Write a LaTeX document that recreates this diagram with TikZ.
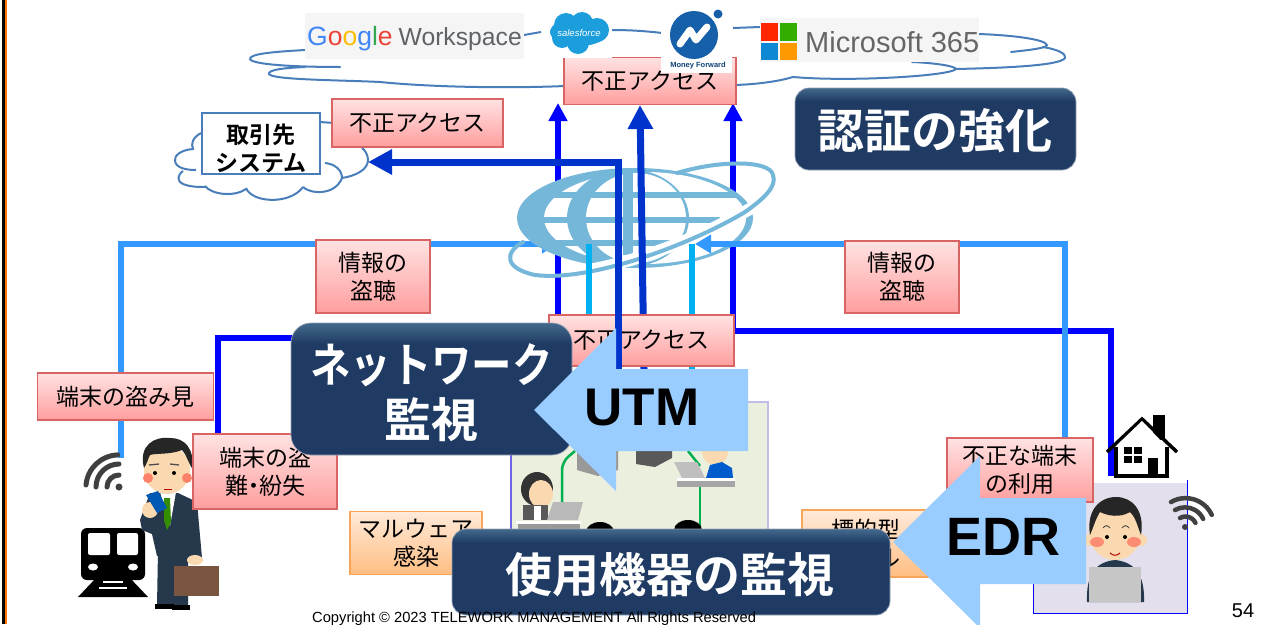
\documentclass[tikz,border=0pt]{standalone}
\usepackage{fontspec}
\setmainfont{Liberation Sans}
\newfontfamily\jp{Noto Sans CJK JP}[BoldFont={* Bold}]
\usetikzlibrary{arrows.meta,shapes.geometric,calc}
\definecolor{nv}{HTML}{1F3B63}
\definecolor{nvt}{HTML}{3F6488}
\definecolor{cl}{HTML}{4A7EBB}
\definecolor{lb}{HTML}{3399FF}
\definecolor{pb}{HTML}{0000FF}
\definecolor{db}{HTML}{0033CC}
\definecolor{cy}{HTML}{00B0F0}
\definecolor{ar}{HTML}{99CCFF}
\definecolor{gl}{HTML}{74B7D9}
\definecolor{skin}{HTML}{FBD9B0}
\definecolor{suit}{HTML}{26384C}
\definecolor{ico}{HTML}{404040}
\definecolor{grn}{HTML}{00B050}
\definecolor{sfb}{HTML}{1B9EDB}
\definecolor{mfb}{HTML}{1560A8}
\definecolor{bagc}{HTML}{7A5540}
\pgfdeclareverticalshading{navyb}{100bp}{color(0bp)=(nv); color(67bp)=(nv); color(74bp)=(nvt); color(100bp)=(nvt)}
\tikzset{
  redlab/.style={draw={rgb,255:red,217;green,100;blue,100},line width=1.1pt,top color={rgb,255:red,255;green,226;blue,226},bottom color={rgb,255:red,255;green,158;blue,158},inner sep=0pt,align=center,font=\jp\fontsize{23}{28}\selectfont},
  orlab/.style={draw={rgb,255:red,248;green,165;blue,90},line width=1.1pt,top color={rgb,255:red,255;green,234;blue,218},bottom color={rgb,255:red,255;green,190;blue,130},inner sep=0pt,align=center,font=\jp\fontsize{23}{28}\selectfont},
  navy/.style={shading=navyb,draw={rgb,255:red,150;green,165;blue,185},line width=.7pt,rounded corners=20pt,inner sep=0pt},
  navytext/.style={inner sep=0pt,align=center,text=white,font=\jp\bfseries\fontsize{47}{55}\selectfont},
  cloudln/.style={draw=cl,line width=2pt},
  light/.style={draw=lb,line width=5.5pt},
  pure/.style={draw=pb,line width=6pt},
  deep/.style={draw=db,line width=7pt},
  cyan/.style={draw=cy,line width=6pt},
  tipa/.style={-{Triangle[length=18pt,width=18pt]}},
  tipb/.style={-{Triangle[length=24pt,width=24pt]}},
  tipc/.style={-{Triangle[length=16pt,width=18pt]}},
  wifi/.style={draw=ico,line width=5pt,line cap=round},
  block/.style={fill=ar,draw=none},
}
\begin{document}
\begin{tikzpicture}[x=1pt,y=-1pt]
\useasboundingbox (0,0) rectangle (1280,624);
\fill[white] (0,0) rectangle (1280,624);
% side rule
\fill[black] (1.5,0) rectangle (4.5,624);
\fill[orange!90!red] (5,0) rectangle (7,624);

% connector ends
\coordinate (mobileLight) at (121,458);
\coordinate (globeL) at (558,244);
\coordinate (globeR) at (695,244);
\coordinate (homeLight) at (1065,440);
\coordinate (mobileBlue) at (218,436);
\coordinate (bendL) at (558,338);
\coordinate (tipL) at (558,103);
\coordinate (homeBlue) at (1111,476);
\coordinate (bendR) at (733,331);
\coordinate (tipR) at (733,103);
\coordinate (officeA) at (618,369);
\coordinate (partnerTip) at (368,162);
\coordinate (officeB) at (644,369);
\coordinate (tipM) at (640,105);
\coordinate (cyA1) at (589,244);
\coordinate (cyA2) at (589,372);
\coordinate (cyB1) at (692,244);
\coordinate (cyB2) at (692,372);

% top cloud outline
\draw[cloudln,line cap=round] (305,50) .. controls (270,52) and (250,54) .. (250,59) .. controls (252,65) and (300,67) .. (340,67);
\draw[cloudln,line cap=round] (305,67) .. controls (282,68) and (268,70) .. (269,74) .. controls (272,80) and (340,80) .. (380,82) .. controls (440,88) and (520,88) .. (565,86);
\draw[cloudln] (524,35) -- (541,32);
\draw[cloudln] (611,30) .. controls (630,30) and (645,31) .. (662,33);
\draw[cloudln] (733,28) -- (760,27);
\draw[cloudln,line cap=round] (978,34) .. controls (1010,35) and (1045,39) .. (1047,45) .. controls (1047,48) and (1030,50) .. (1011,52);
\draw[cloudln,line cap=round] (1043,47) .. controls (1060,50) and (1066,54) .. (1065,58) .. controls (1060,66) and (1000,68) .. (956,69);
\draw[cloudln,line cap=round] (912,62) .. controls (935,63) and (955,66) .. (956,69) .. controls (950,76) and (850,82) .. (793,77) .. controls (780,81) and (760,84) .. (736,85);

% partner cloud
\draw[cloudln] (201,133) .. controls (192,138) and (191,144) .. (193,149) .. controls (180,150) and (174,156) .. (175,161) .. controls (176,168) and (186,170) .. (196,170);
\draw[cloudln] (183,171) .. controls (177,175) and (177,182) .. (183,184) .. controls (190,187) and (198,187) .. (205,187);
\draw[cloudln] (205,186) .. controls (212,195) and (235,197) .. (246,189);
\draw[cloudln] (246,188) .. controls (252,203) and (290,205) .. (303,187);
\draw[cloudln] (303,187) .. controls (310,194) and (335,196) .. (342,178);
\draw[cloudln] (325,163) .. controls (335,164) and (342,170) .. (342,178) .. controls (355,176) and (368,170) .. (368,160) .. controls (368,155) and (365,150) .. (362,148);
\draw[cloudln] (320,122) -- (334,123);

% wires behind the globe
\draw[light,tipc] (mobileLight) |- (globeL);
\draw[pure,tipa] (mobileBlue) |- (bendL) -- (tipL);
\draw[pure,tipa] (homeBlue) |- (bendR) -- (tipR);

% globe
\begin{scope}
\clip (517,160) rectangle (760,270);
\fill[gl] (635,218) ellipse [x radius=118,y radius=50];
\fill[white] (645,218) ellipse [x radius=101,y radius=46];
\fill[gl] (628,218) ellipse [x radius=61,y radius=49];
\fill[white] (636,218) ellipse [x radius=50,y radius=45];
\clip (635,218) ellipse [x radius=115,y radius=49];
\fill[gl] (517,192) rectangle (760,198);
\fill[gl] (517,217) rectangle (720,223);
\fill[gl] (517,240) rectangle (690,246);
\fill[gl] (623,165) rectangle (633,255);
\end{scope}
\draw[white,line width=12pt] (575,272) .. controls (625,266) and (700,240) .. (765,200);
\draw[gl,line width=4pt,line cap=round] (523,242) .. controls (505,252) and (503,268) .. (535,275) .. controls (590,282) and (690,245) .. (745,212) .. controls (765,198) and (777,186) .. (773,175) .. controls (770,160) and (720,160) .. (677,173);

% wires over the globe
\draw[light,tipc] (homeLight) |- (globeR);
\draw[cyan] (cyA1) -- (cyA2);
\draw[cyan] (cyB1) -- (cyB2);
\draw[deep,tipb] (officeB) -- (tipM);

% office
\node[draw={rgb,255:red,190;green,190;blue,230},line width=1.5pt,fill={rgb,255:red,234;green,240;blue,221},minimum width=257pt,minimum height=150pt,inner sep=0pt] (office) at (639.5,477) {};
\draw[draw={rgb,255:red,110;green,100;blue,230},line width=1.5pt] (511,402) -- (511,552);
\draw[grn,line width=2.5pt,rounded corners=8pt] (562,505) -- (562,462) -- (575,451);
\draw[grn,line width=2.5pt,rounded corners=8pt] (688,451) -- (700,466);
\draw[grn,line width=2.5pt] (700,487) -- (700,530);
% servers
\fill[gray!80] (577,451) -- (577,470) -- (598,476) -- (618,470) -- (618,451) -- cycle;
\fill[gray!70!black] (636,451) -- (636,464) -- (655,467) -- (672,458) -- (672,451) -- cycle;
% office woman
\fill[black!80] (537,489) ellipse [x radius=16,y radius=17];
\fill[skin] (541,494) ellipse [x radius=12,y radius=14];
\fill[gray!70!black] (523,520) rectangle (548,505);
\fill[white] (534,506) rectangle (541,520);
\fill[gray!55] (553,502) -- (583,502) -- (578,520) -- (547,520) -- cycle;
\fill[white] (516,521) rectangle (581,524);
\fill[gray!80] (518,524) rectangle (580,530);
% office man
\fill[skin] (715,452) ellipse [x radius=13,y radius=13];
\fill[blue!55!cyan!80!black] (706,478) -- (710,465) -- (722,462) -- (732,468) -- (733,478) -- cycle;
\fill[gray!50] (674,462) -- (697,462) -- (705,478) -- (682,478) -- cycle;
\fill[white] (677,478) rectangle (735,481);
\fill[gray!70] (677,481) rectangle (735,487);
% bottom heads
\fill[black] (600,532) ellipse [x radius=14,y radius=10];
\fill[black] (688,530) ellipse [x radius=14,y radius=10];

% home
\node[draw=pb,line width=1pt,fill={rgb,255:red,227;green,223;blue,236},minimum width=154pt,minimum height=133pt,inner sep=0pt] (home) at (1110,546.5) {};
\fill[white] (1114,414) rectangle (1187,483);
\fill[white] (1094,479) rectangle (1187,483);
\fill[black] (1153,415) rectangle (1165,440);
\draw[black,line width=3.5pt] (1107,452) -- (1142,419) -- (1177,452);
\fill[white] (1117,445) -- (1142,421) -- (1165,445) -- (1165,476) -- (1117,476) -- cycle;
\draw[black,line width=3.5pt] (1116,447) -- (1116,476) -- (1167,476) -- (1167,447);
\fill[black] (1124,447) rectangle (1132,454);
\fill[black] (1134,447) rectangle (1142,454);
\fill[black] (1124,456) rectangle (1132,463);
\fill[black] (1134,456) rectangle (1142,463);
\fill[black] (1148,458) rectangle (1158,476);
\draw[wifi,line width=4.5pt] (1180,518) arc [start angle=240,end angle=335,radius=11];
\draw[wifi,line width=4.5pt] (1175,510) arc [start angle=240,end angle=335,radius=20];
\draw[wifi,line width=4.5pt] (1171,502) arc [start angle=240,end angle=335,radius=29];
\fill[ico] (1185,527) circle (3);
% home worker
\fill[suit] (1087,602) .. controls (1086,575) and (1095,562) .. (1115,560) .. controls (1135,562) and (1145,575) .. (1144,602) -- cycle;
\fill[skin] (1115,533) ellipse [x radius=26,y radius=27];
\fill[skin] (1090,540) circle (6);
\fill[skin] (1141,540) circle (6);
\fill[red!35!skin] (1097,542) ellipse [x radius=7,y radius=5];
\fill[red!35!skin] (1134,542) ellipse [x radius=7,y radius=5];
\fill[black!85] (1090,535) .. controls (1086,510) and (1100,497) .. (1116,497) .. controls (1132,497) and (1145,510) .. (1141,535) .. controls (1137,525) and (1136,518) .. (1130,512) .. controls (1120,518) and (1108,516) .. (1100,512) .. controls (1095,520) and (1094,526) .. (1090,535) -- cycle;
\fill[black] (1107,537) circle (2);
\fill[black] (1125,537) circle (2);
\draw[black!70,line width=1pt] (1103,528) .. controls (1105,525) and (1108,525) .. (1110,528);
\draw[black!70,line width=1pt] (1122,528) .. controls (1124,525) and (1127,525) .. (1129,528);
\draw[red!70!black,line width=1pt] (1110,553) .. controls (1113,556) and (1117,556) .. (1120,553);
\fill[gray!45] (1089,567) rectangle (1141,602);

% commuter side
\draw[wifi] (107,487) arc [start angle=180,end angle=270,radius=12];
\draw[wifi] (96,487) arc [start angle=180,end angle=270,radius=23];
\draw[wifi] (86,485) arc [start angle=185,end angle=268,radius=33];
\fill[ico] (119,487) circle (3.5);
% train
\fill[black,rounded corners=6pt] (81,528) rectangle (145,580);
\fill[white,rounded corners=2pt] (88,533) rectangle (110,555);
\fill[white,rounded corners=2pt] (117,533) rectangle (138,555);
\fill[white] (93,567) ellipse [x radius=5,y radius=3.5];
\fill[white] (133,567) ellipse [x radius=5,y radius=3.5];
\fill[black] (96,578) -- (78,597) -- (148,597) -- (130,578) -- cycle;
\fill[white] (103,581) rectangle (123,583);
\fill[white] (99,587) rectangle (127,589);
% commuter
\fill[suit] (158,550) -- (157,606) -- (188,606) -- (188,550) -- cycle;
\fill[black] (155,604) rectangle (174,609);
\fill[black] (172,605) rectangle (190,610);
\fill[suit] (150,493) -- (178,493) -- (197,502) -- (202,558) -- (188,560) -- (186,556) -- (157,556) -- (152,534) -- (142,530) -- (140,520) -- cycle;
\fill[white] (160,492) -- (176,492) -- (170,526) -- cycle;
\fill[green!45!black!80!yellow] (164,498) -- (170,498) -- (171,522) -- (167,530) -- (164,520) -- cycle;
\fill[skin] (167,470) ellipse [x radius=23,y radius=24];
\fill[red!40!skin] (148,478) circle (5);
\fill[red!40!skin] (187,478) circle (5);
\fill[black!85] (144,468) .. controls (138,445) and (155,436) .. (170,438) .. controls (185,438) and (194,448) .. (193,470) .. controls (188,462) and (186,454) .. (182,450) .. controls (170,455) and (155,453) .. (150,455) .. controls (148,458) and (148,462) .. (144,468) -- cycle;
\fill[black] (155,473) circle (2);
\fill[black] (174,473) circle (2);
\draw[black!70,line width=1.3pt] (149,465) -- (159,464);
\draw[black!70,line width=1.3pt] (170,464) -- (179,465);
\draw[red!70!black,line width=1pt] (164,489) -- (172,489);
\fill[skin] (150,510) ellipse [x radius=8,y radius=8];
\fill[blue!50!cyan!70!black] (146,495) -- (158,491) -- (167,508) -- (157,513) -- cycle;
\fill[skin] (195,560) ellipse [x radius=8,y radius=5];
\fill[bagc] (174,566) rectangle (219,596);

% labels
\node[redlab,minimum width=172pt,minimum height=47pt] (accTop) at (650,81) {不正アクセス};
\node[redlab,minimum width=171pt,minimum height=48pt] (accLeft) at (417.5,123) {不正アクセス};
\node[redlab,minimum width=114pt,minimum height=73pt] (tapL) at (373,276.5) {情報の\\盗聴};
\node[redlab,minimum width=114pt,minimum height=72pt] (tapR) at (902,277) {情報の\\盗聴};
\node[redlab,minimum width=185pt,minimum height=51pt] (accMid) at (641.5,340.5) {不正アクセス};
\node[redlab,minimum width=176pt,minimum height=47pt] (peek) at (125.5,396.5) {端末の盗み見};
\node[redlab,minimum width=144pt,minimum height=75pt] (theft) at (265,471.5) {端末の盗\\難\kern-6pt・\kern-6pt 紛失};
\node[redlab,minimum width=146pt,minimum height=64pt] (rogue) at (1020,470) {不正な端末\\の利用};
\node[orlab,minimum width=132pt,minimum height=63pt] (mal) at (416,543) {マルウェア\\感染};
\node[orlab,minimum width=128pt,minimum height=67pt] (targ) at (866,543.5) {標的型\\メール};

% partner system box
\node[draw=cl,fill=white,line width=2.4pt,minimum width=118pt,minimum height=61pt,inner sep=0pt] (partner) at (261,143.5) {};
\node[inner sep=0pt,align=center,font=\jp\bfseries\fontsize{23}{28}\selectfont] (partnerT) at (261,148) {取引先\\システム};

% line over the label
\draw[deep,tipb] (officeA) |- (partnerTip);

% logos
\node[fill=black!4,minimum width=219pt,minimum height=46pt,inner sep=0pt] (gw) at (414.5,36) {};
\node[inner sep=0pt,anchor=west,font=\fontsize{26.5}{30}\selectfont] (gwT) at (307,39) {\textcolor[HTML]{4285F4}{G}\textcolor[HTML]{EA4335}{o}\textcolor[HTML]{FBBC05}{o}\textcolor[HTML]{4285F4}{g}\textcolor[HTML]{34A853}{l}\textcolor[HTML]{EA4335}{e}\hspace{6pt}\textcolor[HTML]{5F6368}{\fontsize{24.7}{30}\selectfont Workspace}};
% salesforce
\fill[white] (545,12) rectangle (612,58);
\fill[sfb] (579,32) ellipse [x radius=29,y radius=14];
\fill[sfb] (566,25) circle (12);
\fill[sfb] (582,23) circle (11);
\fill[sfb] (597,30) circle (12);
\fill[sfb] (578,43) circle (11);
\fill[sfb] (562,38) circle (10);
\node[text=white,inner sep=0pt,font=\itshape\fontsize{9.5}{10}\selectfont] (sf) at (579,33) {salesforce};
% money forward
\fill[white] (661,8) rectangle (732,73);
\fill[mfb] (694,35) circle (24);
\draw[white,line width=7pt,line cap=round,line join=round] (680,44) -- (690,30) -- (696,40) -- (707,27);
\fill[mfb] (718,14) circle (4.5);
\node[text=mfb!70!black,inner sep=0pt,font=\bfseries\fontsize{7.5}{8}\selectfont] (mf) at (698,66) {Money Forward};
% microsoft
\node[fill=black!4,minimum width=219pt,minimum height=44pt,inner sep=0pt] (ms) at (869.5,40) {};
\fill[orange!30!red] (761,23) rectangle (778,41);
\fill[green!60!black!80!yellow] (780,23) rectangle (797,41);
\fill[cyan!70!blue] (761,43) rectangle (778,60);
\fill[orange!80!yellow] (780,43) rectangle (797,60);
\node[text=black!60,inner sep=0pt,font=\fontsize{29}{30}\selectfont,anchor=west] (mst) at (805,42) {Microsoft 365};

% navy boxes
\node[navy,minimum width=281pt,minimum height=132pt] (net) at (431.5,389) {};
\node[navytext] (netT) at (431.5,393) {\scalebox{.86}[1]{ネットワーク}\\監視};
\node[navy,minimum width=281pt,minimum height=82pt,rounded corners=14pt] (auth) at (935.5,129) {};
\node[navytext] (authT) at (935,131) {認証の強化};
\node[navy,minimum width=438pt,minimum height=86pt,rounded corners=14pt] (dev) at (671,572) {};
\node[navytext] (devT) at (670,575) {使用機器の監視};

% arrows
\fill[block] (534,410) -- (616,328) -- (616,369) -- (748,369) -- (748,451) -- (616,451) -- (616,491) -- cycle;
\node[inner sep=0pt,font=\bfseries\fontsize{53}{60}\selectfont] (utm) at (642,408) {UTM};
\fill[block] (893,542) -- (980,456) -- (980,498) -- (1086,498) -- (1086,584) -- (980,584) -- (980,628) -- cycle;
\node[inner sep=0pt,font=\bfseries\fontsize{54}{60}\selectfont] (edr) at (1003,537) {EDR};

% footer
\node[inner sep=0pt,anchor=west,font=\fontsize{14.7}{16}\selectfont] (copy) at (312,619) {Copyright © 2023 TELEWORK MANAGEMENT All Rights Reserved};
\node[inner sep=0pt,font=\fontsize{20}{22}\selectfont] (page) at (1243,611) {54};
\end{tikzpicture}
\end{document}
